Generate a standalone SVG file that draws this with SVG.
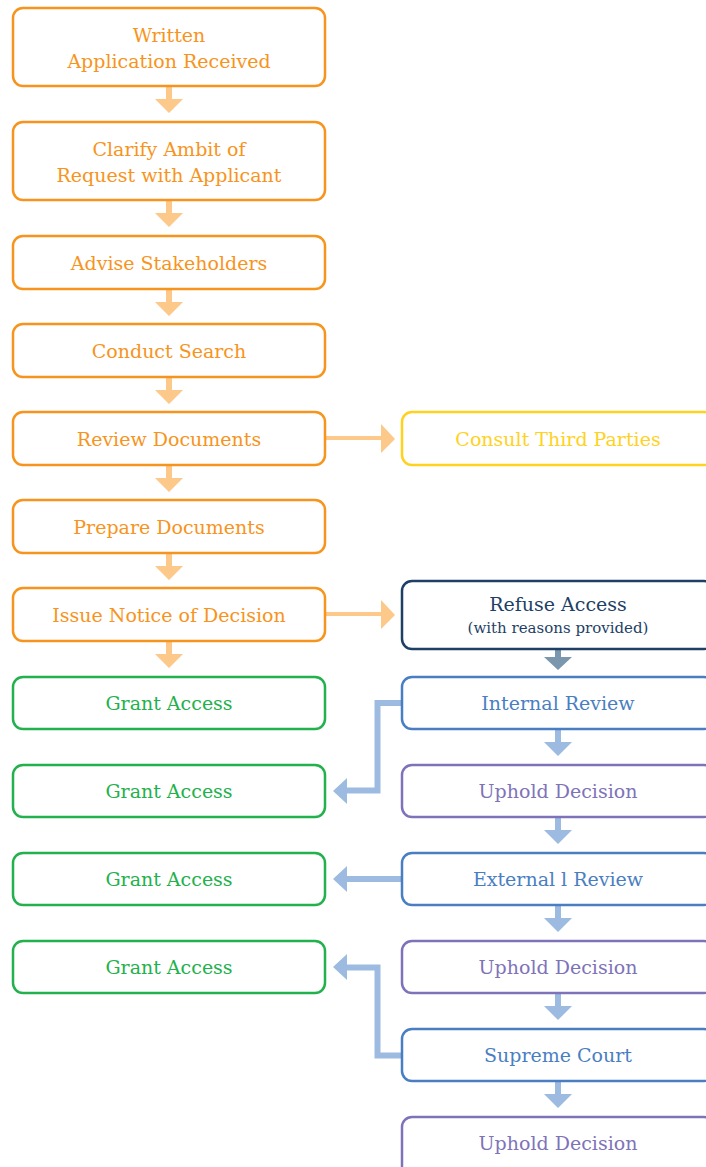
<svg xmlns="http://www.w3.org/2000/svg" width="706" height="1167" viewBox="0 0 706 1167">
<style>
.box{fill:#fff;stroke-width:2.5}
.t{font-family:"DejaVu Serif","Liberation Serif",serif;font-size:19px;text-anchor:middle;dominant-baseline:central}
.or{stroke:#F7941D}.ort{fill:#F7941D}
.ye{stroke:#FFD21F}.yet{fill:#FFD21F}
.gr{stroke:#22B14C}.grt{fill:#22B14C}
.nv{stroke:#1E3F66}.nvt{fill:#1E3F66}
.bl{stroke:#4A7EC2}.blt{fill:#4A7EC2}
.pu{stroke:#7E73B8}.put{fill:#7E73B8}
.ao{fill:#FCC98A}
.ab{fill:#9DBBE0}
.abs{fill:none;stroke:#9DBBE0;stroke-width:6}
.ag{fill:#7A97AD}
</style>
<g id="connectors">
<g class="ao">
<path d="M166,86h6v13h11l-14,14l-14,-14h11z"/>
<path d="M166,200h6v13h11l-14,14l-14,-14h11z"/>
<path d="M166,289h6v13h11l-14,14l-14,-14h11z"/>
<path d="M166,377h6v13h11l-14,14l-14,-14h11z"/>
<path d="M166,465h6v13h11l-14,14l-14,-14h11z"/>
<path d="M166,553h6v13h11l-14,14l-14,-14h11z"/>
<path d="M166,641h6v13h11l-14,14l-14,-14h11z"/>
<path d="M325,436h56v-12l14,15l-14,14v-13h-56z"/>
<path d="M325,612h56v-12l14,15l-14,14v-13h-56z"/>
</g>
<path class="ag" d="M555,649h6v8h11l-14,13l-14,-13h11z"/>
<g class="ab">
<path d="M555,729h6v13h11l-14,14l-14,-14h11z"/>
<path d="M555,817h6v13h11l-14,14l-14,-14h11z"/>
<path d="M555,905h6v13h11l-14,14l-14,-14h11z"/>
<path d="M555,993h6v13h11l-14,14l-14,-14h11z"/>
<path d="M555,1081h6v13h11l-14,14l-14,-14h11z"/>
<path d="M333,791l14,-13v26z"/>
<path d="M333,879l14,-13v26z"/>
<path d="M333,967l14,-13v26z"/>
</g>
<path class="abs" d="M402,703H377.5V790.5H346"/>
<path class="abs" d="M402,879H346"/>
<path class="abs" d="M402,1055.5H377.5V967.5H346"/>
</g>
<g id="n1"><rect class="box or" x="13" y="8" width="312" height="78" rx="10"/><text class="t ort" x="169" y="35">Written</text><text class="t ort" x="169" y="61">Application Received</text></g>
<g id="n2"><rect class="box or" x="13" y="122" width="312" height="78" rx="10"/><text class="t ort" x="169" y="149">Clarify Ambit of</text><text class="t ort" x="169" y="175">Request with Applicant</text></g>
<g id="n3"><rect class="box or" x="13" y="236" width="312" height="53" rx="10"/><text class="t ort" x="169" y="263">Advise Stakeholders</text></g>
<g id="n4"><rect class="box or" x="13" y="324" width="312" height="53" rx="10"/><text class="t ort" x="169" y="351">Conduct Search</text></g>
<g id="n5"><rect class="box or" x="13" y="412" width="312" height="53" rx="10"/><text class="t ort" x="169" y="439">Review Documents</text></g>
<g id="n6"><rect class="box or" x="13" y="500" width="312" height="53" rx="10"/><text class="t ort" x="169" y="527">Prepare Documents</text></g>
<g id="n7"><rect class="box or" x="13" y="588" width="312" height="53" rx="10"/><text class="t ort" x="169" y="615">Issue Notice of Decision</text></g>
<g id="g1"><rect class="box gr" x="13" y="677" width="312" height="52" rx="10"/><text class="t grt" x="169" y="703">Grant Access</text></g>
<g id="g2"><rect class="box gr" x="13" y="765" width="312" height="52" rx="10"/><text class="t grt" x="169" y="791">Grant Access</text></g>
<g id="g3"><rect class="box gr" x="13" y="853" width="312" height="52" rx="10"/><text class="t grt" x="169" y="879">Grant Access</text></g>
<g id="g4"><rect class="box gr" x="13" y="941" width="312" height="52" rx="10"/><text class="t grt" x="169" y="967">Grant Access</text></g>
<g id="consult"><rect class="box ye" x="402" y="412" width="312" height="53" rx="10"/><text class="t yet" x="558" y="439">Consult Third Parties</text></g>
<g id="refuse"><rect class="box nv" x="402" y="581" width="312" height="68" rx="10"/><text class="t nvt" x="558" y="604">Refuse Access</text><text class="t nvt" x="558" y="628" style="font-size:15px">(with reasons provided)</text></g>
<g id="internal"><rect class="box bl" x="402" y="677" width="312" height="52" rx="10"/><text class="t blt" x="558" y="703">Internal Review</text></g>
<g id="uphold1"><rect class="box pu" x="402" y="765" width="312" height="52" rx="10"/><text class="t put" x="558" y="791">Uphold Decision</text></g>
<g id="external"><rect class="box bl" x="402" y="853" width="312" height="52" rx="10"/><text class="t blt" x="558" y="879">External l Review</text></g>
<g id="uphold2"><rect class="box pu" x="402" y="941" width="312" height="52" rx="10"/><text class="t put" x="558" y="967">Uphold Decision</text></g>
<g id="supreme"><rect class="box bl" x="402" y="1029" width="312" height="52" rx="10"/><text class="t blt" x="558" y="1055">Supreme Court</text></g>
<g id="uphold3"><rect class="box pu" x="402" y="1117" width="312" height="60" rx="10"/><text class="t put" x="558" y="1143">Uphold Decision</text></g>
</svg>
